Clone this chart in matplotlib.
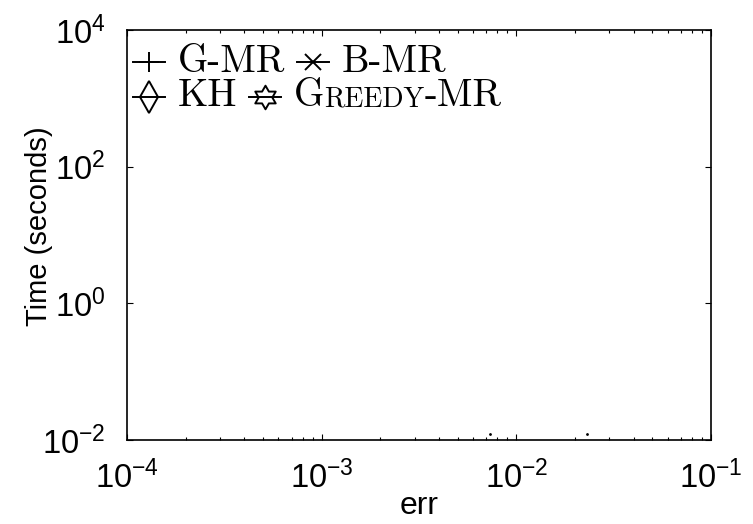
import matplotlib
matplotlib.use("Agg")
import matplotlib.pyplot as plt
from matplotlib.lines import Line2D
from matplotlib.path import Path
from matplotlib.ticker import NullLocator
from matplotlib.offsetbox import AnchoredOffsetbox, DrawingArea, HPacker, VPacker, TextArea

plt.rcParams["font.family"] = ["Liberation Sans", "DejaVu Sans"]
plt.rcParams["mathtext.default"] = "regular"

# the only visible marks (everything else falls below 10^-2 s)
err_pts = [0.0073, 0.023]
time_pts = [0.0122, 0.0122]

x_lim = (1e-4, 1e-1)
y_lim = (1e-2, 1e4)
y_ticks = [1e-2, 1e0, 1e2, 1e4]

methods = ["G-MR", "B-MR", "KH", "Greedy-MR"]
hexagram = Path.unit_regular_star(6, 0.5774)
markers = {"G-MR": "+", "B-MR": "x", "KH": "d", "Greedy-MR": hexagram}
marker_size = {"G-MR": 15, "B-MR": 11, "KH": 16, "Greedy-MR": 17}

fig = plt.figure(figsize=(7.53, 5.24), dpi=100)
ax = fig.add_axes([0.1687, 0.160, 0.7755, 0.7825])
ax.set_xscale("log")
ax.set_yscale("log")
ax.plot(err_pts, time_pts, ls="none", marker=".", ms=2, color="k")
ax.set_xlim(*x_lim)
ax.set_ylim(*y_lim)
ax.set_yticks(y_ticks)
ax.yaxis.set_minor_locator(NullLocator())
ax.tick_params(which="both", direction="in", top=True, right=True, labelsize=23.5, width=0.8)
ax.tick_params(which="major", length=4.5)
ax.tick_params(axis="x", which="major", pad=15)
ax.tick_params(axis="y", which="major", pad=15.5)
ax.tick_params(which="minor", length=2.5)
for s in ax.spines.values():
    s.set_linewidth(1.2)
ax.set_xlabel("err", fontsize=23, labelpad=-3)
ax.set_ylabel("Time (seconds)", fontsize=21)
ax.yaxis.set_label_coords(-0.127, 0.522)


# MATLAB-style legend: two rows, serif (CM) text, Greedy in small caps
def handle(m):
    da = DrawingArea(23, 20, 0, 0)
    da.add_artist(Line2D([0, 11.5, 23], [10, 10, 10], color="k", lw=1.4, marker=markers[m],
                         markevery=[1], ms=marker_size[m], mfc="none", mec="k", mew=1.4))
    return da


def label(txt):
    tp = dict(family="cmr10", size=28)
    if txt == "Greedy-MR":
        sc = dict(family="cmr10", size=20)
        return HPacker(children=[TextArea("G", textprops=tp), TextArea("REEDY", textprops=sc),
                                 TextArea("-MR", textprops=tp)], align="baseline", pad=0, sep=0)
    return TextArea(txt, textprops=tp)


rows = []
for pair in (methods[:2], methods[2:]):
    kids = []
    for m in pair:
        kids += [handle(m), label(m)]
    rows.append(HPacker(children=kids, align="center", pad=0, sep=9))
box = VPacker(children=rows, align="left", pad=0, sep=-1)
ax.add_artist(AnchoredOffsetbox(loc="upper left", child=box, pad=0, borderpad=0, frameon=False,
                                bbox_to_anchor=(6 / 584, 1 - 14 / 410), bbox_transform=ax.transAxes))

fig.savefig("out.png", dpi=100)
